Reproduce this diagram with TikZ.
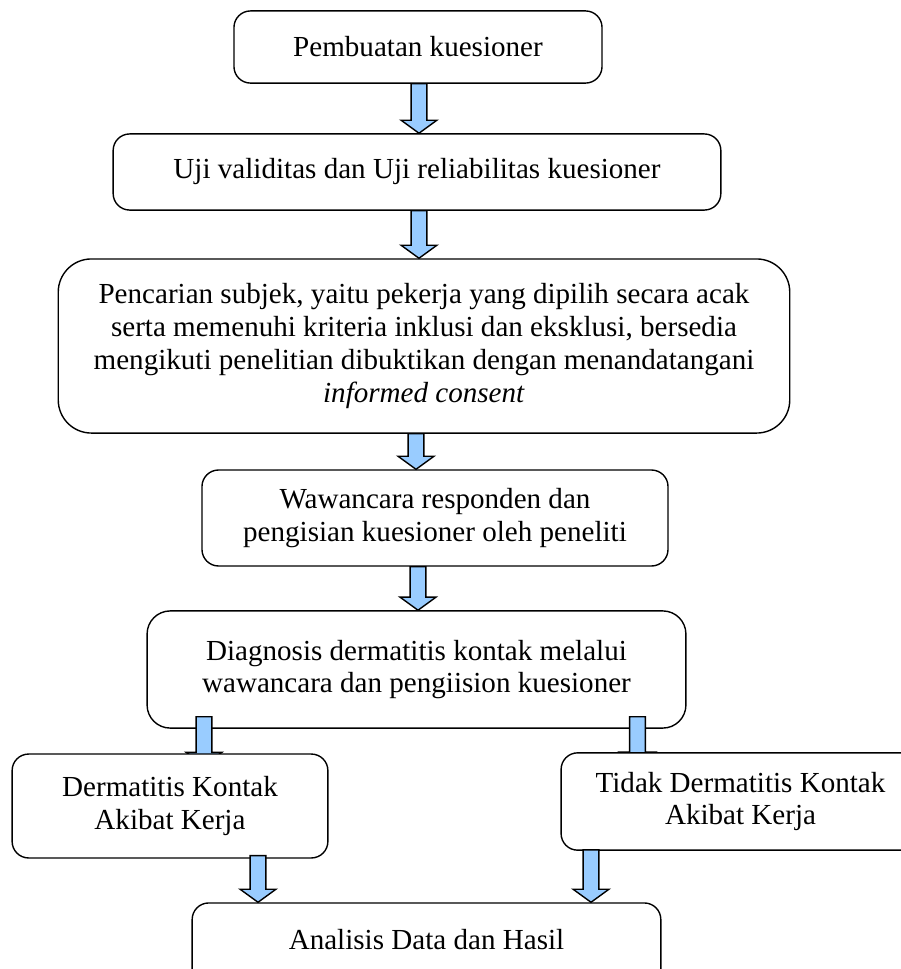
\documentclass[tikz,border=0pt]{standalone}
\usepackage{fontspec}
\setmainfont{Liberation Serif}
\usetikzlibrary{calc}
\definecolor{arrowblue}{HTML}{99CCFF}
\pgfdeclarelayer{back}
\pgfsetlayers{back,main}

\newcommand{\blockarrow}[2]{%
  \path (#1) coordinate (ba-s) (#2) coordinate (ba-e);
  \draw[flowarrow] let \p1=(ba-s), \p2=(ba-e) in
    (\x1-3.4pt,\y1) -- (\x1+3.4pt,\y1) -- (\x1+3.4pt,\y2+5.6pt) -- (\x1+7.7pt,\y2+5.6pt)
    -- (\x1,\y2) -- (\x1-7.7pt,\y2+5.6pt) -- (\x1-3.4pt,\y2+5.6pt) -- cycle;}

\begin{document}
\begin{tikzpicture}[
  x=0.0151cm, y=-0.0151cm,
  box/.style={draw, fill=white, rounded corners=0.25cm, align=center, inner sep=0pt, line width=0.6pt, font=\fontsize{12.5}{14.1}\selectfont},
  flowarrow/.style={draw=black, fill=arrowblue, line width=0.6pt, line join=miter}
]
\useasboundingbox (0,0) rectangle (901,969);

\node[box, minimum width=5.56cm, minimum height=1.09cm] (make) at (418,47) {Pembuatan kuesioner};
\node[box, minimum width=9.18cm, minimum height=1.15cm] (uji) at (417,172) {Uji validitas dan Uji reliabilitas kuesioner};
\node[box, rounded corners=0.5cm, minimum width=11.05cm, minimum height=2.63cm] (cari) at (424,346) {Pencarian subjek, yaitu pekerja yang dipilih secara acak\\serta memenuhi kriteria inklusi dan eksklusi, bersedia\\mengikuti penelitian dibuktikan dengan menandatangani\\\textit{informed consent}};
\node[box, minimum width=7.04cm, minimum height=1.45cm] (wawancara) at (435,518) {Wawancara responden dan\\pengisian kuesioner oleh peneliti};
\node[box, minimum width=4.77cm, minimum height=1.57cm] (dkak) at (170,806) {Dermatitis Kontak\\Akibat Kerja};
\node[box, minimum width=5.42cm, minimum height=1.47cm] (tdkak) at (740.5,801.5) {Tidak Dermatitis Kontak\\Akibat Kerja};
\node[box, minimum width=7.08cm, minimum height=1.24cm] (hasil) at (426.5,944) {\raisebox{3.6pt}{Analisis Data dan Hasil}};

\begin{pgfonlayer}{back}
\node[box, rounded corners=0.35cm, minimum width=8.14cm, minimum height=1.77cm] (diag) at (416.5,669.5) {Diagnosis dermatitis kontak melalui\\wawancara dan pengiision kuesioner};
\blockarrow{$(diag.south)+(-212.5,-12)$}{$(dkak.north)+(0,12)$}
\blockarrow{$(diag.south)+(221,-12)$}{$(tdkak.north)+(0,13)$}
\end{pgfonlayer}

\blockarrow{$(make.south)+(1,0)$}{uji.north}
\blockarrow{$(uji.south)+(2,0)$}{cari.north}
\blockarrow{$(cari.south)+(-8,0)$}{wawancara.north}
\blockarrow{$(wawancara.south)+(-17,0)$}{diag.north}
\blockarrow{$(dkak.south)+(88,-3)$}{hasil.north}
\blockarrow{$(tdkak.south)+(-149.5,-1)$}{hasil.north}
\end{tikzpicture}
\end{document}
